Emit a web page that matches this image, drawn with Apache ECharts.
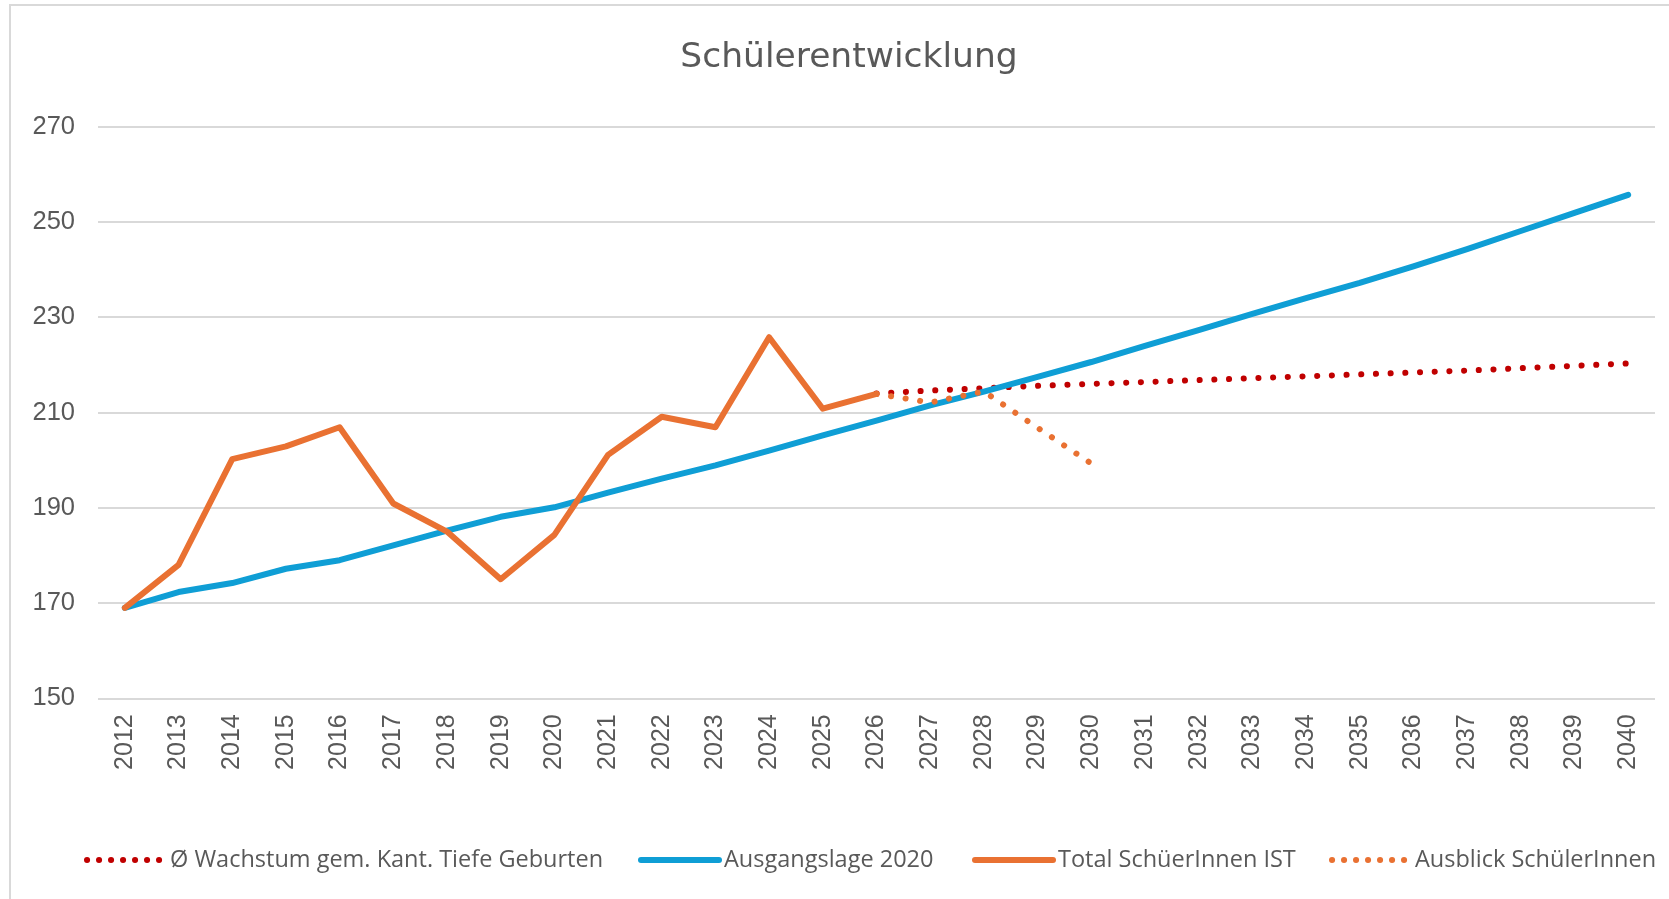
<!DOCTYPE html>
<html>
<head>
<meta charset="utf-8">
<script src="https://cdn.jsdelivr.net/npm/echarts@6/dist/echarts.min.js"></script>
<style>
html,body{margin:0;padding:0;background:#fff;}
#chart{width:1669px;height:899px;}
</style>
</head>
<body>
<div id="chart"></div>
<script>
const years = ['2012','2013','2014','2015','2016','2017','2018','2019','2020','2021','2022','2023','2024','2025','2026','2027','2028','2029','2030','2031','2032','2033','2034','2035','2036','2037','2038','2039','2040'];
const yTicks = [150, 170, 190, 210, 230, 250, 270];

const wachstum = [null,null,null,null,null,null,null,null,null,null,null,null,null,null,
  214, 214.6, 215.1, 215.6, 216.0, 216.4, 216.8, 217.2, 217.6, 218.0, 218.4, 218.8, 219.3, 219.8, 220.3];
const ausgangslage = [169, 172.3, 174.2, 177.2, 179, 182.1, 185.2, 188.1, 190.1, 193.2, 196.1, 198.9, 202, 205.2, 208.3,
  211.5, 214.4, 217.5, 220.6, 224, 227.3, 230.7, 234, 237.2, 240.7, 244.3, 248.1, 251.9, 255.7];
const totalIst = [169, 178, 200.2, 202.9, 206.9, 190.9, 185, 175, 184.3, 201.1, 209.1, 206.9, 225.8, 210.8, 213.9];
const ausblick = [null,null,null,null,null,null,null,null,null,null,null,null,null,null,
  213.9, 212.1, 214.4, 206.8, 199.3];

const names = ['Ø Wachstum gem. Kant. Tiefe Geburten', 'Ausgangslage 2020', 'Total SchüerInnen IST', 'Ausblick SchülerInnen'];

const chart = echarts.init(document.getElementById('chart'));
const dotStyle = (color) => ({ color: color, width: 6, type: [0.1, 14.6], cap: 'round' });

const legendFont = 'Open Sans';
function mkLegend(name, left, dotted) {
  return {
    left: left,
    top: 848,
    itemWidth: 78,
    itemHeight: 14,
    padding: 0,
    itemStyle: { opacity: 0 },
    lineStyle: dotted ? { width: 6, type: [0.1, 11.9], cap: 'round' } : { width: 6, type: 'solid', cap: 'round' },
    textStyle: { color: '#595959', fontFamily: legendFont, fontSize: 23.5 },
    data: [name]
  };
}

chart.setOption({
  animation: false,
  backgroundColor: '#ffffff',
  graphic: [
    { type: 'rect', shape: { x: 10, y: 5, width: 1720, height: 1000 }, style: { fill: 'none', stroke: '#d9d9d9', lineWidth: 2 }, silent: true, z: -10 },
    { type: 'text', x: 849, y: 58, style: { text: 'Schülerentwicklung', textAlign: 'center', textVerticalAlign: 'middle', fill: '#595959', font: '34.5px "DejaVu Sans"' } }
  ],
  grid: { left: 98, right: 14, top: 126.7, bottom: 200.7, containLabel: false },
  xAxis: {
    type: 'category',
    data: years,
    boundaryGap: true,
    axisLine: { show: false },
    axisTick: { show: false },
    axisLabel: { rotate: 90, margin: 16, color: '#595959', fontFamily: 'Liberation Sans', fontSize: 25 }
  },
  yAxis: {
    type: 'value',
    min: yTicks[0],
    max: yTicks[yTicks.length - 1],
    interval: 20,
    axisLine: { show: false },
    axisTick: { show: false },
    splitLine: { lineStyle: { color: '#d9d9d9', width: 2 } },
    axisLabel: { margin: 23, color: '#595959', fontFamily: 'Liberation Sans', fontSize: 25.5 }
  },
  legend: [
    mkLegend(names[0], 84, true),
    mkLegend(names[1], 638, false),
    mkLegend(names[2], 972, false),
    mkLegend(names[3], 1329, true)
  ],
  series: [
    { name: names[0], type: 'line', data: wachstum, symbol: 'none', lineStyle: dotStyle('#c00000'), itemStyle: { color: '#c00000' } },
    { name: names[1], type: 'line', data: ausgangslage, symbol: 'none', lineStyle: { color: '#0f9ed5', width: 6, cap: 'round', join: 'round' }, itemStyle: { color: '#0f9ed5' } },
    { name: names[2], type: 'line', data: totalIst, symbol: 'none', lineStyle: { color: '#e97132', width: 6, cap: 'round', join: 'round' }, itemStyle: { color: '#e97132' } },
    { name: names[3], type: 'line', data: ausblick, symbol: 'none', lineStyle: dotStyle('#e97132'), itemStyle: { color: '#e97132' } }
  ]
});
</script>
</body>
</html>
